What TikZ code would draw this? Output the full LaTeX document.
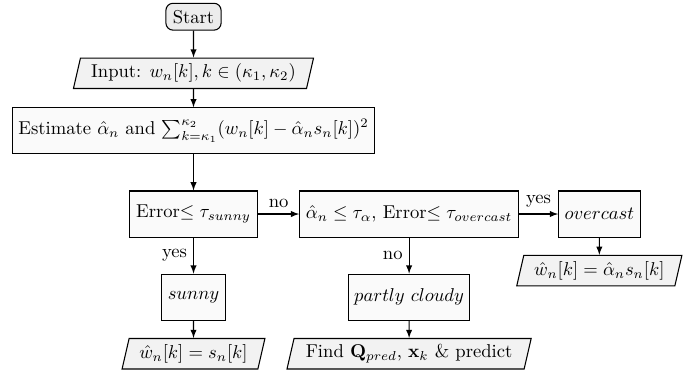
\RequirePackage{fix-cm}
\documentclass[tikz,border=0pt]{standalone}
\usepackage{amsmath}
\usepackage{amssymb}
\usetikzlibrary{shapes.geometric, arrows, positioning}

\begin{document}
\begin{tikzpicture}[
    node distance=0.71cm,
    font=\fontsize{10.45}{12.5}\selectfont,
    startstop/.style={rectangle, draw, semithick, rounded corners, minimum width=1.09cm, minimum height=0.53cm, text centered, fill=gray!15},
    io/.style={trapezium, trapezium left angle=77, trapezium right angle=103, trapezium stretches body, draw, semithick, minimum height=0.59cm, text centered, fill=gray!10},
    process/.style={rectangle, draw, semithick, minimum height=0.91cm, text centered, fill=gray!4},
    arrow/.style={semithick,->,>=latex}
]
\useasboundingbox (0,0) rectangle (13.70,-7.34);

% Nodes
\node (start) [startstop] at (3.82,-0.33) {Start};
\node (in) [io, minimum width=4.74cm, below=0.53cm of start] {Input: $w_n[k], k \in (\kappa_1, \kappa_2)$};
\node (est) [process, minimum width=7.15cm, below=0.36cm of in] {Estimate $\hat{\alpha}_n$ and $\sum_{k=\kappa_1}^{\kappa_2}(w_n[k]-\hat{\alpha}_n s_n[k])^2$};
\node (err) [process, minimum width=2.53cm, below=of est] {Error$\leq \tau_{sunny}$};

% Decision branch
\node (cond) [process, minimum width=4.32cm, right=0.81cm of err] {$\hat{\alpha}_n \leq \tau_\alpha$, Error$\leq \tau_{overcast}$};
\node (over) [process, minimum width=1.52cm, right=0.77cm of cond] {$overcast$};
\node (overout) [io, minimum width=3.26cm, below=0.34cm of over] {$\hat{w}_n[k] = \hat{\alpha}_n s_n[k]$};

% Sunny / partly cloudy
\node (sunny) [process, minimum width=1.2cm, below=of err] {$sunny$};
\node (sunnyout) [io, minimum width=2.82cm, below=0.34cm of sunny] {$\hat{w}_n[k] = s_n[k]$};
\node (partly) [process, minimum width=2.21cm, below=of cond] {$partly\ cloudy$};
\node (findq) [io, minimum width=4.82cm, below=0.34cm of partly] {Find $\mathbf{Q}_{pred}$, $\mathbf{x}_k$ \& predict};

% Arrows
\draw [arrow] (start) -- (in);
\draw [arrow] (in) -- (est);
\draw [arrow] (est) -- (err);
\draw [arrow] (err) -- node[above] {no} (cond);
\draw [arrow] (cond) -- node[above] {yes} (over);
\draw [arrow] (over) -- (overout);
\draw [arrow] (err) -- node[left] {yes} (sunny);
\draw [arrow] (sunny) -- (sunnyout);
\draw [arrow] (cond) -- node[left] {no} (partly);
\draw [arrow] (partly) -- (findq);

\end{tikzpicture}
\end{document}
